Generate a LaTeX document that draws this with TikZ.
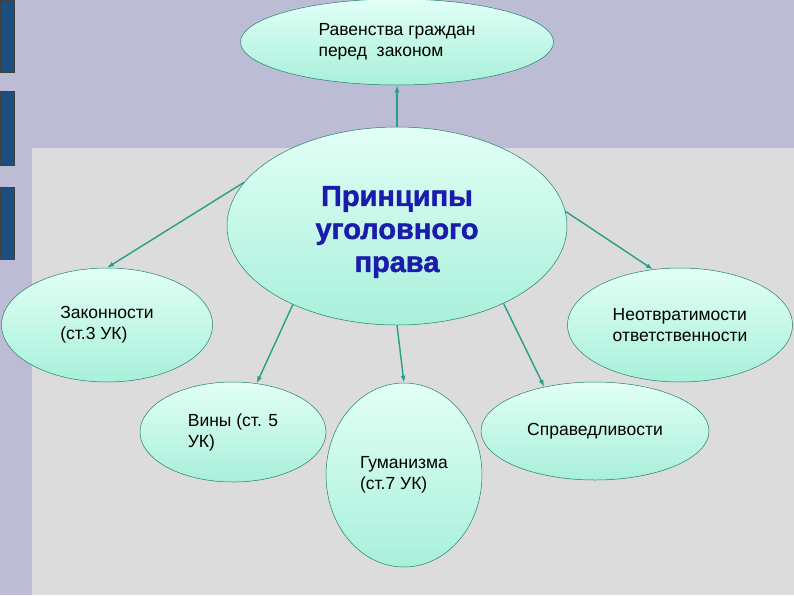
\documentclass[tikz,border=0pt]{standalone}
\usepackage{fontspec}
\setmainfont{Liberation Sans}
\newfontfamily\headfont{Liberation Sans}[BoldFont={Liberation Sans Bold},
                                         BoldFeatures={FakeBold=1.6}]
\usepackage{xcolor}
\usepackage{tikz}
\usetikzlibrary{positioning,arrows.meta,shapes.geometric}

\definecolor{slidebg}{RGB}{188,189,213}
\definecolor{panelgray}{RGB}{220,220,220}
\definecolor{barblue}{RGB}{28,79,128}
\definecolor{mintlight}{RGB}{226,255,246}
\definecolor{mintdark}{RGB}{168,240,218}
\definecolor{tealline}{RGB}{36,160,134}
\definecolor{titleblue}{RGB}{28,28,172}

\begin{document}
\begin{tikzpicture}[
    x=1pt, y=-1pt,
    oval/.style={ellipse, draw=tealline!80!black, line width=0.5pt,
                 top color=mintlight, bottom color=mintdark,
                 inner sep=0pt, align=left,
                 font=\fontsize{17.5}{21}\selectfont},
    arr/.style={-{Latex[length=7pt,width=5pt]}, draw=tealline, line width=1.4pt},
  ]
  \useasboundingbox (0,0) rectangle (794,595);
  % Slide background
  \fill[slidebg] (0,0) rectangle (794,595);
  \fill[panelgray] (32,148) rectangle (794,595);
  \foreach \ya/\yb in {0/72, 91/165, 187/259}
    \filldraw[fill=barblue, draw=black!75, line width=0.6pt] (0,\ya) rectangle (14,\yb);

  % Central principle
  \node[oval, minimum width=340pt, minimum height=198pt] (core) at (397,226) {};
  \node[align=center, inner sep=0pt, text=titleblue,
        font=\fontsize{29}{33}\headfont\bfseries] (title) at (397,232)
        {Принципы\\уголовного\\права};
  % Surrounding principles
  \node[oval, minimum width=313pt, minimum height=86pt] (equal) at (397,42)
        {Равенства граждан\\перед\ \ законом};
  \node[oval, minimum width=211pt, minimum height=114pt] (legal) at (107,325)
        {Законности\\(ст.3 УК)};
  \node[oval, minimum width=225pt, minimum height=114pt] (inevit) at (680,325)
        {Неотвратимости\\ответственности};
  \node[oval, minimum width=186pt, minimum height=100pt] (guilt) at (233,432)
        {Вины (ст. 5\\УК)};
  \node[oval, minimum width=156pt, minimum height=184pt] (human) at (404,475)
        {Гуманизма\\(ст.7 УК)};
  \node[oval, minimum width=228pt, minimum height=98pt] (just) at (595,431)
        {Справедливости};

  \draw[arr] (core.north) -- (equal.south);
  \draw[arr] (core.164) -- (legal.north);
  \draw[arr] (core.5) -- (inevit.116);
  \draw[arr] (core.217) -- (guilt.64);
  \draw[arr] (core.south) -- (human.north);
  \draw[arr] (core.324) -- (just.139);
\end{tikzpicture}
\end{document}
